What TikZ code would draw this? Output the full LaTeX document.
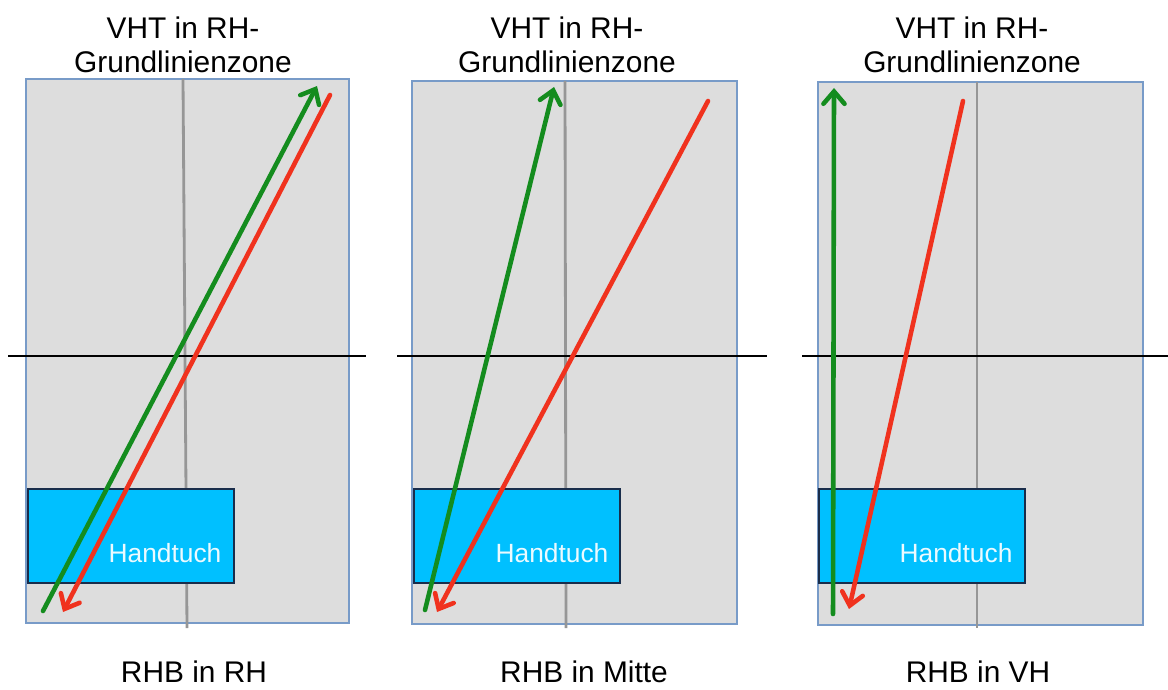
\documentclass[tikz,border=0pt]{standalone}
\usepackage{fontspec}
\setmainfont{Liberation Sans}
\usepackage{tikz}
\usetikzlibrary{arrows.meta,positioning}
\usepackage{xcolor}
\definecolor{pngray}{RGB}{221,221,221}
\definecolor{pnborder}{RGB}{120,155,200}
\definecolor{midgray}{RGB}{150,150,150}
\definecolor{tuchblue}{RGB}{0,192,255}
\definecolor{tuchborder}{RGB}{25,45,75}
\definecolor{vhtgreen}{RGB}{20,140,30}
\definecolor{rhbred}{RGB}{240,50,30}
\tikzstyle{panel} = [fill=pngray, draw=pnborder, line width=1.3pt]
\tikzstyle{midline} = [draw=midgray, line width=1.6pt]
\tikzstyle{baseline} = [draw=black, line width=1.5pt]
\tikzstyle{towel} = [rectangle, fill=tuchblue, draw=tuchborder, line width=0.9pt, minimum width=4.12cm, minimum height=1.88cm, inner sep=0pt]
\tikzstyle{towellabel} = [text=white!92!tuchblue, font=\fontsize{15}{18}\selectfont, inner sep=0pt]
\tikzstyle{title} = [align=center, font=\fontsize{17}{20}\selectfont, inner sep=0pt]
\tikzstyle{caption} = [font=\fontsize{17}{20}\selectfont, inner sep=0pt]
\tikzstyle{vht} = [line width=2.6pt, draw=vhtgreen, line cap=round, -{Straight Barb[length=7pt,width=12pt,line cap=round]}]
\tikzstyle{rhb} = [line width=2.6pt, draw=rhbred, line cap=round, -{Straight Barb[length=7pt,width=12pt,line cap=round]}]
\begin{document}
\begin{tikzpicture}[x=0.02cm, y=-0.02cm]
\useasboundingbox (0,0) rectangle (1168,689);

% Panel 1: RHB in RH
\draw[panel] (26,79) rectangle (349,623);
\draw[midline] (183,79) -- (187,628);
\draw[baseline] (8,356) -- (366,356);
\node (tuch1) [towel] at (131,536) {};
\node (tlab1) [towellabel] at (165,553) {Handtuch};
\node (top1) [title] at (183,45) {VHT in RH-\\[-1pt]Grundlinienzone};
\node (cap1) [caption] at (194,672) {RHB in RH};
\coordinate (g1a) at (43,611);
\coordinate (g1b) at (317,86);
\coordinate (r1a) at (330,95);
\coordinate (r1b) at (63,612);
\draw[vht] (g1a) -- (g1b);
\draw[rhb] (r1a) -- (r1b);

% Panel 2: RHB in Mitte
\draw[panel] (412,81) rectangle (737,624);
\draw[midline] (565,81) -- (566,628);
\draw[baseline] (397,356) -- (767,356);
\node (tuch2) [towel] at (517,536) {};
\node (tlab2) [towellabel] at (552,553) {Handtuch};
\node (top2) [title] at (567,45) {VHT in RH-\\[-1pt]Grundlinienzone};
\node (cap2) [caption] at (584,672) {RHB in Mitte};
\coordinate (g2a) at (425,610);
\coordinate (g2b) at (554,87);
\coordinate (r2a) at (708,101);
\coordinate (r2b) at (437,612);
\draw[vht] (g2a) -- (g2b);
\draw[rhb] (r2a) -- (r2b);

% Panel 3: RHB in VH
\draw[panel] (818,82) rectangle (1143,625);
\draw[midline] (977,82) -- (977,628);
\draw[baseline] (802,356) -- (1168,356);
\node (tuch3) [towel] at (922,536) {};
\node (tlab3) [towellabel] at (956,553) {Handtuch};
\node (top3) [title] at (972,45) {VHT in RH-\\[-1pt]Grundlinienzone};
\node (cap3) [caption] at (978,672) {RHB in VH};
\coordinate (g3a) at (833,614);
\coordinate (g3b) at (834,88);
\coordinate (r3a) at (963,101);
\coordinate (r3b) at (849,609);
\draw[vht] (g3a) -- (g3b);
\draw[rhb] (r3a) -- (r3b);
\end{tikzpicture}
\end{document}
